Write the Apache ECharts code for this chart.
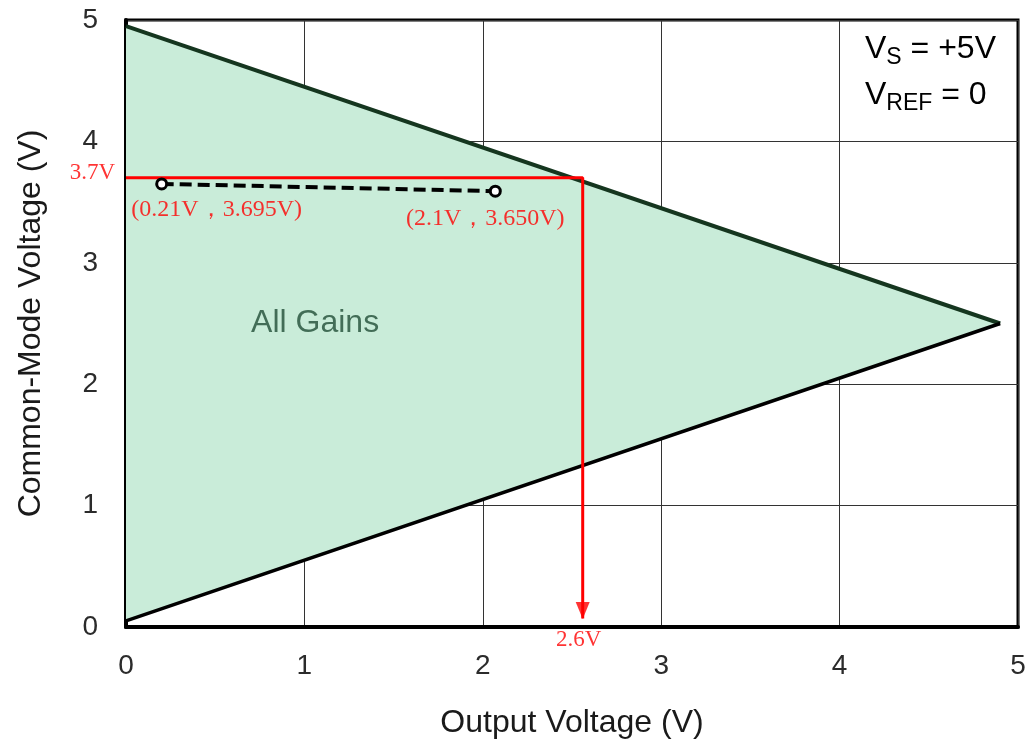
<!DOCTYPE html>
<html>
<head>
<meta charset="utf-8">
<script src="https://cdn.jsdelivr.net/npm/echarts@6/dist/echarts.min.js"></script>
<style>
html,body{margin:0;padding:0;background:#fff;}
#chart{width:1031px;height:740px;}
</style>
</head>
<body>
<div id="chart"></div>
<script>
// ---- data ----
const xTicks = [0, 1, 2, 3, 4, 5];
const yTicks = [0, 1, 2, 3, 4, 5];
const regionVertices = [[0, 4.95], [4.9, 2.5], [0, 0.05]];
const upperEdge = [[0, 4.95], [4.9, 2.5]];
const lowerEdge = [[0, 0.05], [4.9, 2.5]];
const redPath = [[0, 3.7], [2.56, 3.7], [2.56, 0.07]];
const arrowTip = [[2.56, 0.07]];
const measuredPoints = [[0.20, 3.65], [2.07, 3.59]];
const pointLabels = ['(0.21V，3.695V)', '(2.1V，3.650V)'];
const axisMarkPoints = [[0, 3.7], [2.56, 0]];
const axisMarkTexts = ['3.7V', '2.6V'];
const regionLabelPos = [[1.06, 2.5]];
const regionLabelText = 'All Gains';

const chart = echarts.init(document.getElementById('chart'), null, {renderer: 'canvas'});

const sans = 'Liberation Sans, Arial, sans-serif';
const serif = 'Liberation Serif, Times New Roman, serif';

const option = {
  backgroundColor: '#fff',
  animation: false,
  grid: {
    left: 126, right: 13, top: 20, bottom: 113,
    outerBoundsMode: 'none', containLabel: false,
    show: true, borderColor: '#000', borderWidth: 3, backgroundColor: 'transparent'
  },
  xAxis: {
    type: 'value', min: 0, max: 5, interval: 1,
    name: 'Output Voltage (V)', nameLocation: 'middle', nameGap: 80,
    nameTextStyle: {fontFamily: sans, fontSize: 32, color: '#1a1a1a'},
    axisLine: {show: true, lineStyle: {color: '#000', width: 4}},
    axisTick: {show: false},
    axisLabel: {fontFamily: sans, fontSize: 28, color: '#2b2b2b', margin: 25,
      formatter: v => xTicks.includes(v) ? String(v) : ''},
    splitLine: {show: true, lineStyle: {color: '#333', width: 1}}
  },
  yAxis: {
    type: 'value', min: 0, max: 5, interval: 1,
    name: 'Common-Mode Voltage (V)', nameLocation: 'middle', nameGap: 79,
    nameTextStyle: {fontFamily: sans, fontSize: 32, color: '#1a1a1a'},
    axisLine: {show: true, lineStyle: {color: '#000', width: 4}},
    axisTick: {show: false},
    axisLabel: {fontFamily: sans, fontSize: 28, color: '#2b2b2b', margin: 28,
      formatter: v => yTicks.includes(v) ? String(v) : ''},
    splitLine: {show: true, lineStyle: {color: '#333', width: 1}}
  },
  graphic: [{
    type: 'text', right: 35, top: 30,
    style: {
      text: '{v|V}{s|S}{v| = +5V}\n{v|V}{s|REF}{v| = 0}',
      align: 'right',
      rich: {
        v: {fontFamily: sans, fontSize: 32, color: '#333', lineHeight: 46},
        s: {fontFamily: sans, fontSize: 23, color: '#333', lineHeight: 46, padding: [16, 0, 0, 0]}
      }
    }
  }],
  series: [
    {
      type: 'custom', z: 1, silent: true,
      data: [0],
      renderItem: (params, api) => {
        const pts = regionVertices.map(p => api.coord(p));
        return {type: 'polygon', shape: {points: pts}, style: {fill: '#c9ecd9', stroke: 'none'}};
      }
    },
    {
      type: 'line', z: 3, data: upperEdge, symbol: 'none',
      lineStyle: {color: '#15361f', width: 4}
    },
    {
      type: 'line', z: 3, data: lowerEdge, symbol: 'none',
      lineStyle: {color: '#000', width: 3.5}
    },
    {
      type: 'line', z: 5, data: redPath, symbol: 'none',
      lineStyle: {color: '#ff0000', width: 3}
    },
    {
      type: 'scatter', z: 6, data: arrowTip, symbol: 'triangle', symbolRotate: 180,
      symbolSize: [14, 17], symbolOffset: [0, -8],
      itemStyle: {color: '#ff0000'}
    },
    {
      type: 'line', z: 7, data: measuredPoints, symbol: 'circle', symbolSize: 10,
      itemStyle: {color: '#fff', borderColor: '#000', borderWidth: 3},
      lineStyle: {color: '#000', width: 4, type: [12, 6]},
      label: {show: false}
    },
    {
      type: 'scatter', z: 8, symbolSize: 0,
      data: measuredPoints.map((p, i) => ({
        value: p,
        label: {
          show: true, formatter: pointLabels[i], position: 'bottom',
          distance: 0,
          offset: i === 0 ? [55, 14] : [-10, 16],
          fontFamily: serif, fontSize: 24, color: '#ff0000'
        }
      }))
    },
    {
      type: 'scatter', z: 8, symbolSize: 0,
      data: axisMarkPoints.map((p, i) => ({
        value: p,
        label: {
          show: true, formatter: axisMarkTexts[i],
          position: i === 0 ? 'left' : 'bottom',
          distance: i === 0 ? 11 : 1,
          offset: i === 0 ? [0, -5] : [-4, 0],
          fontFamily: serif, fontSize: 23, color: '#ff0000'
        }
      }))
    },
    {
      type: 'scatter', z: 8, symbolSize: 0,
      data: regionLabelPos,
      label: {
        show: true, formatter: regionLabelText, position: 'inside',
        fontFamily: sans, fontSize: 32, color: '#214d36'
      }
    }
  ]
};
chart.setOption(option);
</script>
</body>
</html>
